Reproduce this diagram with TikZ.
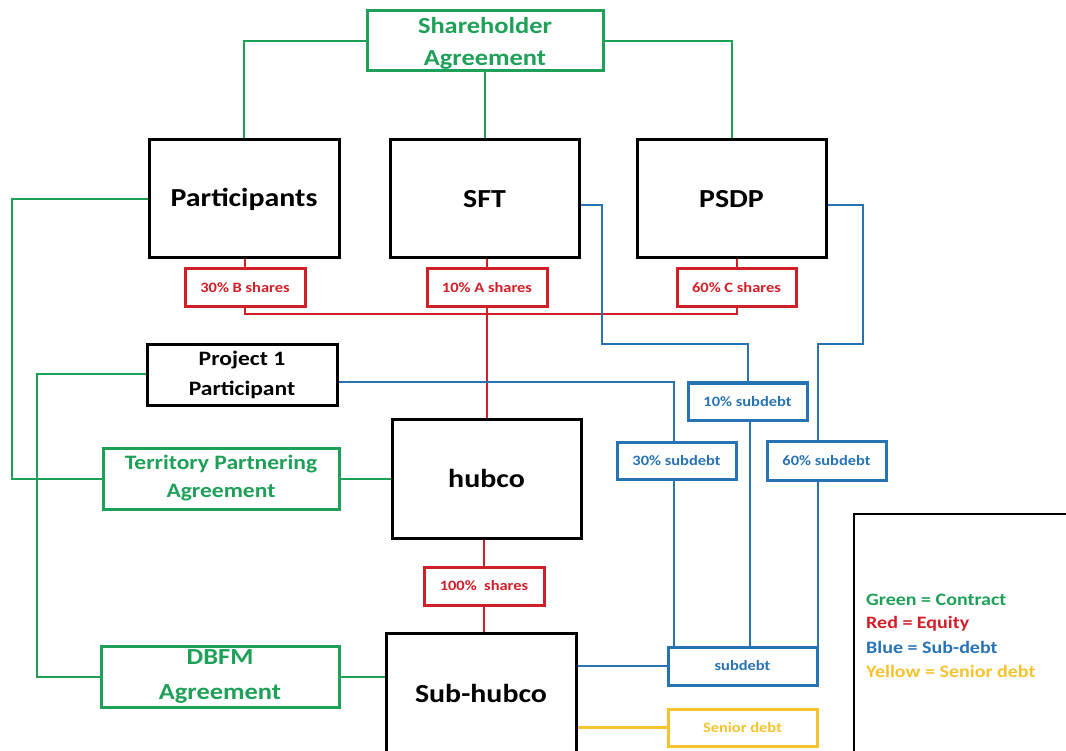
\documentclass[tikz,border=0pt]{standalone}
\usepackage{fontspec}
\setmainfont{Carlito}[FakeStretch=1.15]
\usetikzlibrary{calc}
\definecolor{cgreen}{RGB}{30,160,88}
\definecolor{cred}{RGB}{210,30,40}
\definecolor{cblue}{RGB}{40,115,180}
\definecolor{cyellow}{RGB}{245,195,45}
\tikzset{
  bbox/.style={draw=black, line width=3pt, inner sep=0pt, align=center, text=black},
  gbox/.style={draw=cgreen, line width=3pt, inner sep=0pt, align=center, text=cgreen},
  smallfont/.style={font=\bfseries\fontsize{14.3}{16}\selectfont},
  bigfont/.style={font=\bfseries\fontsize{26}{30}\selectfont},
  rbox/.style={draw=cred, line width=3pt, inner sep=0pt, align=center, text=cred,
     minimum width=120pt, minimum height=38pt, smallfont},
  ubox/.style={draw=cblue, line width=3pt, inner sep=0pt, align=center, text=cblue,
     minimum width=119pt, minimum height=38pt, smallfont},
  ybox/.style={draw=cyellow, line width=3pt, inner sep=0pt, align=center, text=cyellow,
     minimum width=149pt, minimum height=37pt, smallfont},
  gline/.style={draw=cgreen, line width=2pt},
  rline/.style={draw=cred, line width=2pt},
  uline/.style={draw=cblue, line width=2pt},
  yline/.style={draw=cyellow, line width=2.2pt},
  legtext/.style={anchor=west, inner sep=0pt, font=\bfseries\fontsize{17.4}{19}\selectfont},
}
\begin{document}
\begin{tikzpicture}[x=1pt,y=-1pt]
\useasboundingbox (0,0) rectangle (1066,751);
% main boxes
\node[gbox, minimum width=236pt, minimum height=60pt, font=\bfseries\fontsize{23}{32}\selectfont] (sa) at (485,41) {\rule{0pt}{20pt}Shareholder\\[0pt]Agreement};
\node[bbox, minimum width=190pt, minimum height=118pt, bigfont] (part) at (244,199) {Participants};
\node[bbox, minimum width=189pt, minimum height=118pt, bigfont] (sft) at (484.5,199) {SFT};
\node[bbox, minimum width=189pt, minimum height=118pt, bigfont] (psdp) at (731.5,199) {PSDP};
\node[rbox] (bsh) at (245,288) {30\% B shares};
\node[rbox] (ash) at (487,288) {10\% A shares};
\node[rbox, minimum width=119pt] (csh) at (736.5,288) {60\% C shares};
\node[bbox, minimum width=190pt, minimum height=60pt, font=\bfseries\fontsize{20.5}{30}\selectfont] (p1) at (242,375) {Project 1\\Participant};
\node[gbox, minimum width=236pt, minimum height=61pt, font=\bfseries\fontsize{20.5}{28}\selectfont] (tpa) at (221,478.5) {Territory Partnering\\Agreement};
\node[bbox, minimum width=189pt, minimum height=119pt, bigfont] (hubco) at (486.5,478.5) {hubco};
\node[ubox, minimum height=37pt] (s10) at (747.5,401.5) {10\% subdebt};
\node[ubox, minimum height=37pt] (s30) at (676.5,460.5) {30\% subdebt};
\node[ubox, minimum height=39pt] (s60) at (826.5,460.5) {60\% subdebt};
\node[rbox] (hsh) at (484,586) {100\%\ \ shares};
\node[gbox, minimum width=238pt, minimum height=61pt, font=\bfseries\fontsize{23}{35}\selectfont] (dbfm) at (220,676.5) {DBFM\\Agreement};
\node[bbox, minimum width=190pt, minimum height=120pt, bigfont] (sub) at (481,693) {Sub-hubco};
\node[ubox, minimum width=149pt] (sd) at (742.5,666) {subdebt};
\node[ybox] (sen) at (742.5,727.5) {Senior debt};
% legend
\draw[black, line width=1.3pt] (854,770) -- (854,514) -- (1080,514);
\node[legtext, text=cgreen] (lg) at (866,600) {Green = Contract};
\node[legtext, text=cred] (lr) at (866,623.5) {Red = Equity};
\node[legtext, text=cblue] (lb) at (866,647) {Blue = Sub-debt};
\node[legtext, text=cyellow] (ly) at (866,671) {Yellow = Senior debt};
% green connectors
\draw[gline] (sa.west) -| (part.north);
\draw[gline] (sa.east) -| (psdp.north);
\draw[gline] (sa.south) -- (sa.south |- sft.north);
\coordinate (g1) at ([xshift=-90pt]tpa.west);
\draw[gline] (part.west) -| (g1) -- (tpa.west);
\draw[gline] (tpa.east) -- (hubco.west);
\coordinate (g2) at ([xshift=-63pt]dbfm.west);
\draw[gline] ([yshift=1pt]p1.west) -| (g2) -- (dbfm.west);
\draw[gline] (dbfm.east) -- (dbfm.east -| sub.west);
% red connectors
\draw[rline] (bsh.north |- part.south) -- (bsh.north);
\draw[rline] (ash.north |- sft.south) -- (ash.north);
\draw[rline] (csh.north |- psdp.south) -- (csh.north);
\coordinate (rj) at (487,314);
\draw[rline] (bsh.south) |- (rj) -| (csh.south);
\draw[rline] (ash.south) -- (ash.south |- hubco.north);
\draw[rline] (hsh.north |- hubco.south) -- (hsh.north);
\draw[rline] (hsh.south) -- (hsh.south |- sub.north);
% blue connectors
\coordinate (bj1) at (602,344);
\coordinate (bj2) at (863,344);
\coordinate (t60) at ([xshift=-8.5pt]s60.north);
\coordinate (t30) at ([xshift=-2.5pt]s30.north);
\draw[uline] ([yshift=-6pt]sft.east) -| (bj1) -| (s10.north);
\draw[uline] ([yshift=-6pt]psdp.east) -| (bj2) -| (t60);
\draw[uline] ([yshift=-7pt]p1.east) -| (t30);
\coordinate (b30) at ([xshift=-2.5pt]s30.south);
\coordinate (b10) at ([xshift=2.5pt]s10.south);
\coordinate (b60) at ([xshift=-8.5pt]s60.south);
\draw[uline] (b30) -- (b30 |- sd.north);
\draw[uline] (b10) -- (b10 |- sd.north);
\draw[uline] (b60) -- (b60 |- sd.north);
\draw[uline] (sub.east |- sd.west) -- (sd.west);
% yellow connector
\draw[yline] (sub.east |- sen.west) -- (sen.west);
\end{tikzpicture}
\end{document}
